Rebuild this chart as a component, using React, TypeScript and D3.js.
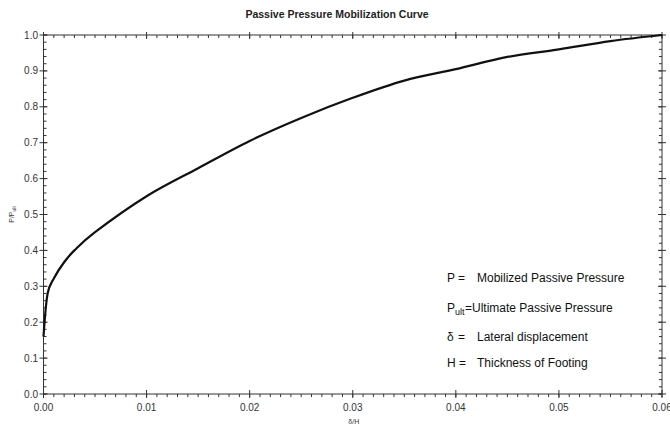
import React from "react";
import * as d3 from "d3";

const xValues = [0, 0.0004, 0.001, 0.002, 0.003, 0.005, 0.01, 0.015, 0.02, 0.025, 0.03, 0.035, 0.04, 0.045, 0.05, 0.055, 0.06];
const yValues = [0.16, 0.28, 0.322, 0.367, 0.40, 0.451, 0.551, 0.629, 0.705, 0.769, 0.825, 0.873, 0.905, 0.939, 0.96, 0.983, 1.0];
const xTicks = [0, 0.01, 0.02, 0.03, 0.04, 0.05, 0.06];
const yTicks = [0, 0.1, 0.2, 0.3, 0.4, 0.5, 0.6, 0.7, 0.8, 0.9, 1.0];
const title = "Passive Pressure Mobilization Curve";

export default function App() {
  const W = 670, H = 427;
  const left = 43.5, right = 662, top = 35, bottom = 394;
  const x = d3.scaleLinear().domain([0, 0.06]).range([left, right]);
  const y = d3.scaleLinear().domain([0, 1]).range([bottom, top]);
  const data = xValues.map((v, i) => [v, yValues[i]] as [number, number]);
  const line = d3.line<[number, number]>().x(d => x(d[0])).y(d => y(d[1])).curve(d3.curveCatmullRom.alpha(0.1));
  const xMinor = d3.range(0, 61).map(i => i * 0.001);
  const yMinor = d3.range(0, 51).map(i => i * 0.02);
  const axisColor = "#333";
  const font = "Liberation Sans, Arial, sans-serif";
  return (
    <svg width={W} height={H} style={{ position: "absolute", left: 0, top: 0, background: "#fff" }}>
      <rect x={0} y={0} width={W} height={H} fill="#fff" />
      <text x={337} y={18} textAnchor="middle" fontFamily={font} fontWeight="bold" fontSize={10.5} fill="#222">{title}</text>
      <rect x={left} y={top} width={right - left} height={bottom - top} fill="none" stroke={axisColor} strokeWidth={1} />
      {xMinor.map((v, i) => (
        <g key={"xm" + i}>
          <line x1={x(v)} x2={x(v)} y1={bottom} y2={bottom + 3} stroke={axisColor} />
          <line x1={x(v)} x2={x(v)} y1={top} y2={top + 3} stroke={axisColor} />
        </g>
      ))}
      {xTicks.map((v, i) => (
        <g key={"xt" + i}>
          <line x1={x(v)} x2={x(v)} y1={bottom - 4} y2={bottom + 4} stroke={axisColor} />
          <line x1={x(v)} x2={x(v)} y1={top - 3} y2={top + 4} stroke={axisColor} />
          <text x={x(v)} y={411} textAnchor="middle" fontFamily={font} fontSize={10} fill="#333">{v.toFixed(2)}</text>
        </g>
      ))}
      {yMinor.map((v, i) => (
        <g key={"ym" + i}>
          <line x1={left} x2={left + 3} y1={y(v)} y2={y(v)} stroke={axisColor} />
          <line x1={right - 3} x2={right} y1={y(v)} y2={y(v)} stroke={axisColor} />
        </g>
      ))}
      {yTicks.map((v, i) => (
        <g key={"yt" + i}>
          <line x1={left - 4} x2={left + 4} y1={y(v)} y2={y(v)} stroke={axisColor} />
          <line x1={right - 4} x2={right + 4} y1={y(v)} y2={y(v)} stroke={axisColor} />
          <text x={38} y={y(v) + 3.5} textAnchor="end" fontFamily={font} fontSize={10} fill="#333">{v.toFixed(1)}</text>
        </g>
      ))}
      <text x={x(0.03) + 1} y={424} textAnchor="middle" fontFamily={font} fontSize={7} fill="#333">δ/H</text>
      <text transform={`translate(14, ${y(0.5)}) rotate(-90)`} textAnchor="middle" fontFamily={font} fontSize={7} fill="#333">
        P/P<tspan fontSize={5} dy={1.5}>ult</tspan>
      </text>
      <path d={line(data) || ""} fill="none" stroke="#111" strokeWidth={2.2} strokeLinejoin="round" />
      <g fontFamily={font} fontSize={12} fill="#111">
        <text x={447} y={282}>P =</text>
        <text x={477} y={282}>Mobilized Passive Pressure</text>
        <text x={447} y={312}>P<tspan fontSize={9} dy={3}>ult</tspan><tspan dy={-3} x={465}>=Ultimate Passive Pressure</tspan></text>
        <text x={447} y={341}>δ</text>
        <text x={458} y={341}>=</text>
        <text x={477} y={341}>Lateral displacement</text>
        <text x={447} y={367}>H =</text>
        <text x={477} y={367}>Thickness of Footing</text>
      </g>
    </svg>
  );
}
